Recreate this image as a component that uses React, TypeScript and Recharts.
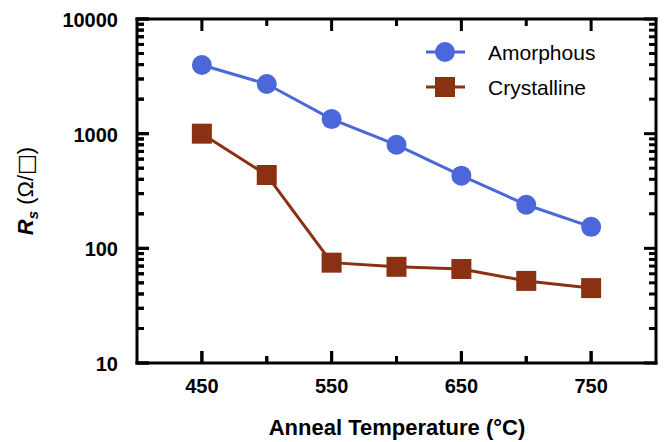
import { LineChart, Line, XAxis, YAxis, ReferenceLine } from "recharts";

const temperatures = [450, 500, 550, 600, 650, 700, 750];
const amorphous = [3970, 2710, 1340, 800, 430, 240, 154];
const crystalline = [1000, 436, 75, 69, 66, 52, 45];

const xTicks = [450, 500, 550, 600, 650, 700, 750];
const xMajor = [450, 550, 650, 750];
const yTicks = [
  10, 20, 30, 40, 50, 60, 70, 80, 90,
  100, 200, 300, 400, 500, 600, 700, 800, 900,
  1000, 2000, 3000, 4000, 5000, 6000, 7000, 8000, 9000,
  10000,
];
const yMajor = [10, 100, 1000, 10000];

const BLUE = "#4B67D9";
const BROWN = "#8A3113";
const FONT = "'Liberation Sans', Arial, sans-serif";
const MINOR = 7;
const MAJOR = 12;

const data = temperatures.map((t, i) => ({
  t,
  amorphous: amorphous[i],
  crystalline: crystalline[i],
}));

const axisLine = { stroke: "#000", strokeWidth: 3, strokeLinecap: "square" as const };

// bottom axis: inward tick + label on majors
function XLabel(props: any) {
  const { x, y, payload } = props;
  const major = xMajor.includes(payload.value);
  const len = major ? MAJOR : MINOR;
  return (
    <g>
      <rect x={x - 1.5} y={y - len} width={3} height={len} fill="#000" />
      {major && (
        <text x={x} y={y + 30} textAnchor="middle" fontFamily={FONT} fontWeight="bold" fontSize={20} fill="#000">
          {payload.value}
        </text>
      )}
    </g>
  );
}

// left axis: inward tick + label on decades
function YLabel(props: any) {
  const { x, y, payload } = props;
  const major = yMajor.includes(payload.value);
  const len = major ? MAJOR : MINOR;
  return (
    <g>
      <rect x={x} y={y - 1.5} width={len} height={3} fill="#000" />
      {major && (
        <text x={x - 19} y={y + 8} textAnchor="end" fontFamily={FONT} fontWeight="bold" fontSize={20} fill="#000">
          {payload.value}
        </text>
      )}
    </g>
  );
}

// top / right ticks, drawn at the ends of reference lines
function VTick(p: any, len: number) {
  const top = Math.min(p.y1, p.y2);
  const bottom = Math.max(p.y1, p.y2);
  return (
    <g>
      <rect x={p.x1 - 1.5} y={top} width={3} height={len} fill="#000" />
      <rect x={p.x1 - 1.5} y={bottom - len} width={3} height={len} fill="#000" />
    </g>
  );
}

function HTick(p: any, len: number) {
  const left = Math.min(p.x1, p.x2);
  const right = Math.max(p.x1, p.x2);
  return (
    <g>
      <rect x={left} y={p.y1 - 1.5} width={len} height={3} fill="#000" />
      <rect x={right - len} y={p.y1 - 1.5} width={len} height={3} fill="#000" />
    </g>
  );
}

function VTickMajor(p: any) {
  return VTick(p, MAJOR);
}
function VTickMinor(p: any) {
  return VTick(p, MINOR);
}
function HTickMajor(p: any) {
  return HTick(p, MAJOR);
}
function HTickMinor(p: any) {
  return HTick(p, MINOR);
}

function FrameLine(p: any) {
  return (
    <line x1={p.x1} x2={p.x2} y1={p.y1} y2={p.y2} stroke="#000" strokeWidth={3} strokeLinecap="square" />
  );
}

function CircleDot(props: any) {
  const { cx, cy, index } = props;
  return <circle key={`c${index}`} cx={cx} cy={cy} r={10} fill={BLUE} />;
}

function SquareDot(props: any) {
  const { cx, cy, index } = props;
  return <rect key={`s${index}`} x={cx - 10} y={cy - 10} width={20} height={20} fill={BROWN} />;
}

function LegendBox() {
  return (
    <svg width={200} height={80} style={{ position: "absolute", left: 420, top: 33 }}>
      <line x1={6} x2={45} y1={19} y2={19} stroke={BLUE} strokeWidth={3} />
      <circle cx={25} cy={19} r={10} fill={BLUE} />
      <text x={68} y={27} fontFamily={FONT} fontSize={21} fill="#000">Amorphous</text>
      <line x1={6} x2={45} y1={54} y2={54} stroke={BROWN} strokeWidth={3} />
      <rect x={15} y={44} width={20} height={20} fill={BROWN} />
      <text x={68} y={62} fontFamily={FONT} fontSize={21} fill="#000">Crystalline</text>
    </svg>
  );
}

function Titles() {
  return (
    <svg width={665} height={442} style={{ position: "absolute", left: 0, top: 0, pointerEvents: "none" }}>
      <text x={397} y={435} textAnchor="middle" fontFamily={FONT} fontWeight="bold" fontSize={22} fill="#000">
        Anneal Temperature (°C)
      </text>
      <text x={33} y={191} transform="rotate(-90 33 191)" textAnchor="middle" fontFamily={FONT} fontSize={22} fill="#000">
        <tspan fontWeight="bold" fontStyle="italic">R</tspan>
        <tspan fontWeight="bold" fontStyle="italic" fontSize={15} dy={5}>s</tspan>
        <tspan dy={-5}> (Ω/</tspan>
        <tspan fontFamily="'DejaVu Sans', sans-serif" fill="#000">□</tspan>
        <tspan>)</tspan>
      </text>
    </svg>
  );
}

export default function App() {
  return (
    <div style={{ position: "absolute", left: 0, top: 0, width: 665, height: 442, background: "#fff" }}>
      <LineChart width={665} height={442} data={data} margin={{ top: 19, right: 9, bottom: 0, left: 0 }}>
        <XAxis
          xAxisId="b"
          dataKey="t"
          type="number"
          domain={[400, 800]}
          ticks={xTicks}
          interval={0}
          height={79}
          tickSize={0}
          tickMargin={0}
          tickLine={false}
          axisLine={axisLine}
          tick={XLabel}
        />
        <YAxis
          yAxisId="l"
          scale="log"
          type="number"
          domain={[10, 10000]}
          allowDataOverflow
          ticks={yTicks}
          interval={0}
          width={137}
          tickSize={0}
          tickMargin={0}
          tickLine={false}
          axisLine={axisLine}
          tick={YLabel}
        />
        <ReferenceLine xAxisId="b" yAxisId="l" x={800} shape={FrameLine} />
        <ReferenceLine xAxisId="b" yAxisId="l" y={10000} shape={FrameLine} />
        {xTicks.map((v) => (
          <ReferenceLine
            key={`x${v}`}
            xAxisId="b"
            yAxisId="l"
            x={v}
            shape={xMajor.includes(v) ? VTickMajor : VTickMinor}
          />
        ))}
        {yTicks.map((v) => (
          <ReferenceLine
            key={`y${v}`}
            xAxisId="b"
            yAxisId="l"
            y={v}
            shape={yMajor.includes(v) ? HTickMajor : HTickMinor}
          />
        ))}
        <Line
          xAxisId="b"
          yAxisId="l"
          dataKey="amorphous"
          stroke={BLUE}
          strokeWidth={3}
          dot={CircleDot}
          isAnimationActive={false}
        />
        <Line
          xAxisId="b"
          yAxisId="l"
          dataKey="crystalline"
          stroke={BROWN}
          strokeWidth={3}
          dot={SquareDot}
          isAnimationActive={false}
        />
      </LineChart>
      <Titles />
      <LegendBox />
    </div>
  );
}
